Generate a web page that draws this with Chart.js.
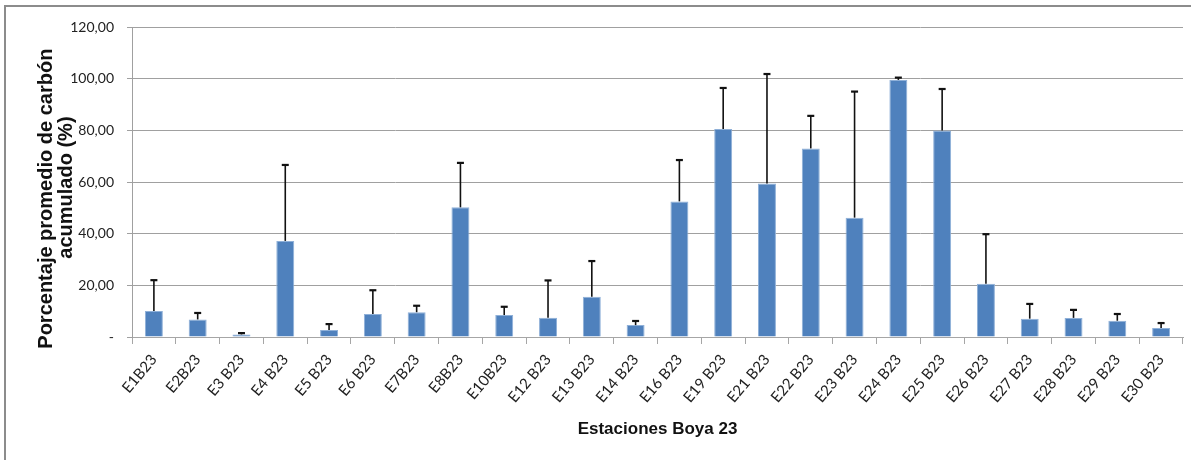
<!DOCTYPE html>
<html>
<head>
<meta charset="utf-8">
<script src="https://cdn.jsdelivr.net/npm/chart.js@4/dist/chart.umd.min.js"></script>
<style>
  html, body { margin: 0; padding: 0; background: #fff; }
  #wrap { position: relative; width: 1191px; height: 460px; overflow: hidden; }
  #frame { position: absolute; left: 4px; top: 5px; right: -10px; bottom: -10px;
           border-top: 2px solid #8c8c8c; border-left: 2px solid #8c8c8c; }
  #graph { position: absolute; left: 0; top: 0; }
</style>
</head>
<body>
<div id="wrap">
  <div id="frame"></div>
  <canvas id="graph" width="1191" height="460"></canvas>
</div>
<script>
var stations = ['E1B23', 'E2B23', 'E3 B23', 'E4 B23', 'E5 B23', 'E6 B23', 'E7B23', 'E8B23',
  'E10B23', 'E12 B23', 'E13 B23', 'E14 B23', 'E16 B23', 'E19 B23', 'E21 B23', 'E22 B23',
  'E23 B23', 'E24 B23', 'E25 B23', 'E26 B23', 'E27 B23', 'E28 B23', 'E29 B23', 'E30 B23'];

// mean % accumulated carbon
var meanValues = [10.1, 6.8, 1.0, 37.2, 2.7, 8.9, 9.6, 50.2,
  8.5, 7.5, 15.6, 4.6, 52.5, 80.5, 59.4, 73.0,
  46.2, 99.5, 79.9, 20.6, 7.1, 7.4, 6.3, 3.5];

// upper error (std dev)
var errValues = [11.9, 2.5, 0.5, 29.4, 2.3, 9.2, 2.5, 17.2,
  3.2, 14.4, 13.8, 1.6, 16.0, 15.9, 42.4, 12.6,
  48.8, 0.9, 16.1, 19.2, 5.7, 3.1, 2.6, 1.9];

var yTicks = [0, 20, 40, 60, 80, 100, 120];

var ctx = document.getElementById('graph');

// draws the upper error whisker on every bar
var errorBars = {
  id: 'errorBars',
  afterDatasetsDraw: function(chart) {
    var c = chart.ctx;
    var y = chart.scales.y;
    var meta = chart.getDatasetMeta(0);
    c.save();
    c.strokeStyle = '#111';
    meta.data.forEach(function(bar, i) {
      var top = y.getPixelForValue(meanValues[i] + errValues[i]);
      var base = y.getPixelForValue(meanValues[i]);
      c.lineWidth = 1.6;
      c.beginPath();
      c.moveTo(bar.x, base);
      c.lineTo(bar.x, top);
      c.stroke();
      c.lineWidth = 2.2;
      c.beginPath();
      c.moveTo(bar.x - 3.5, top);
      c.lineTo(bar.x + 3.5, top);
      c.stroke();
    });
    c.restore();
  }
};

var config = {
  type: 'bar',
  data: {
    labels: stations,
    datasets: [{
      data: meanValues,
      backgroundColor: '#4f81bd',
      borderColor: '#8fb0d8',
      borderWidth: 1,
      categoryPercentage: 1,
      barPercentage: 0.41
    }]
  },
  options: {
    responsive: false,
    animation: false,
    layout: { padding: { top: 27, right: 8, bottom: 13, left: 0 } },
    plugins: {
      legend: { display: false },
      tooltip: { enabled: false }
    },
    scales: {
      x: {
        grid: { display: true, drawOnChartArea: false, offset: true, tickLength: 7, color: '#a6a6a6' },
        border: { color: '#a6a6a6', width: 1 },
        ticks: {
          minRotation: 50, maxRotation: 50, padding: 7,
          color: '#222', font: { family: 'Lato', size: 15 }
        },
        title: {
          display: true, text: 'Estaciones Boya 23', color: '#111',
          font: { family: 'Liberation Sans', size: 17, weight: 'bold' },
          padding: { top: 0, bottom: 7 }
        },
        afterFit: function(scale) { scale.height = 110; }
      },
      y: {
        min: 0, max: 120,
        afterBuildTicks: function(scale) {
          scale.ticks = yTicks.map(function(v) { return { value: v }; });
        },
        grid: { color: '#a0a0a0', tickLength: 5 },
        border: { color: '#a0a0a0', width: 1 },
        ticks: {
          padding: 13, color: '#222', font: { family: 'Lato', size: 14 },
          callback: function(v) { return v === 0 ? '-' : v.toFixed(2).replace('.', ','); }
        },
        title: {
          display: true, text: ['Porcentaje promedio de carbón      ', 'acumulado (%)  '], color: '#111',
          font: { family: 'Liberation Sans', size: 20, weight: 'bold', lineHeight: 1.0 },
          padding: { top: 36, bottom: 0 }
        },
        afterFit: function(scale) { scale.width = 132; }
      }
    }
  },
  plugins: [errorBars]
};

var chart = new Chart(ctx, config);
</script>
</body>
</html>
